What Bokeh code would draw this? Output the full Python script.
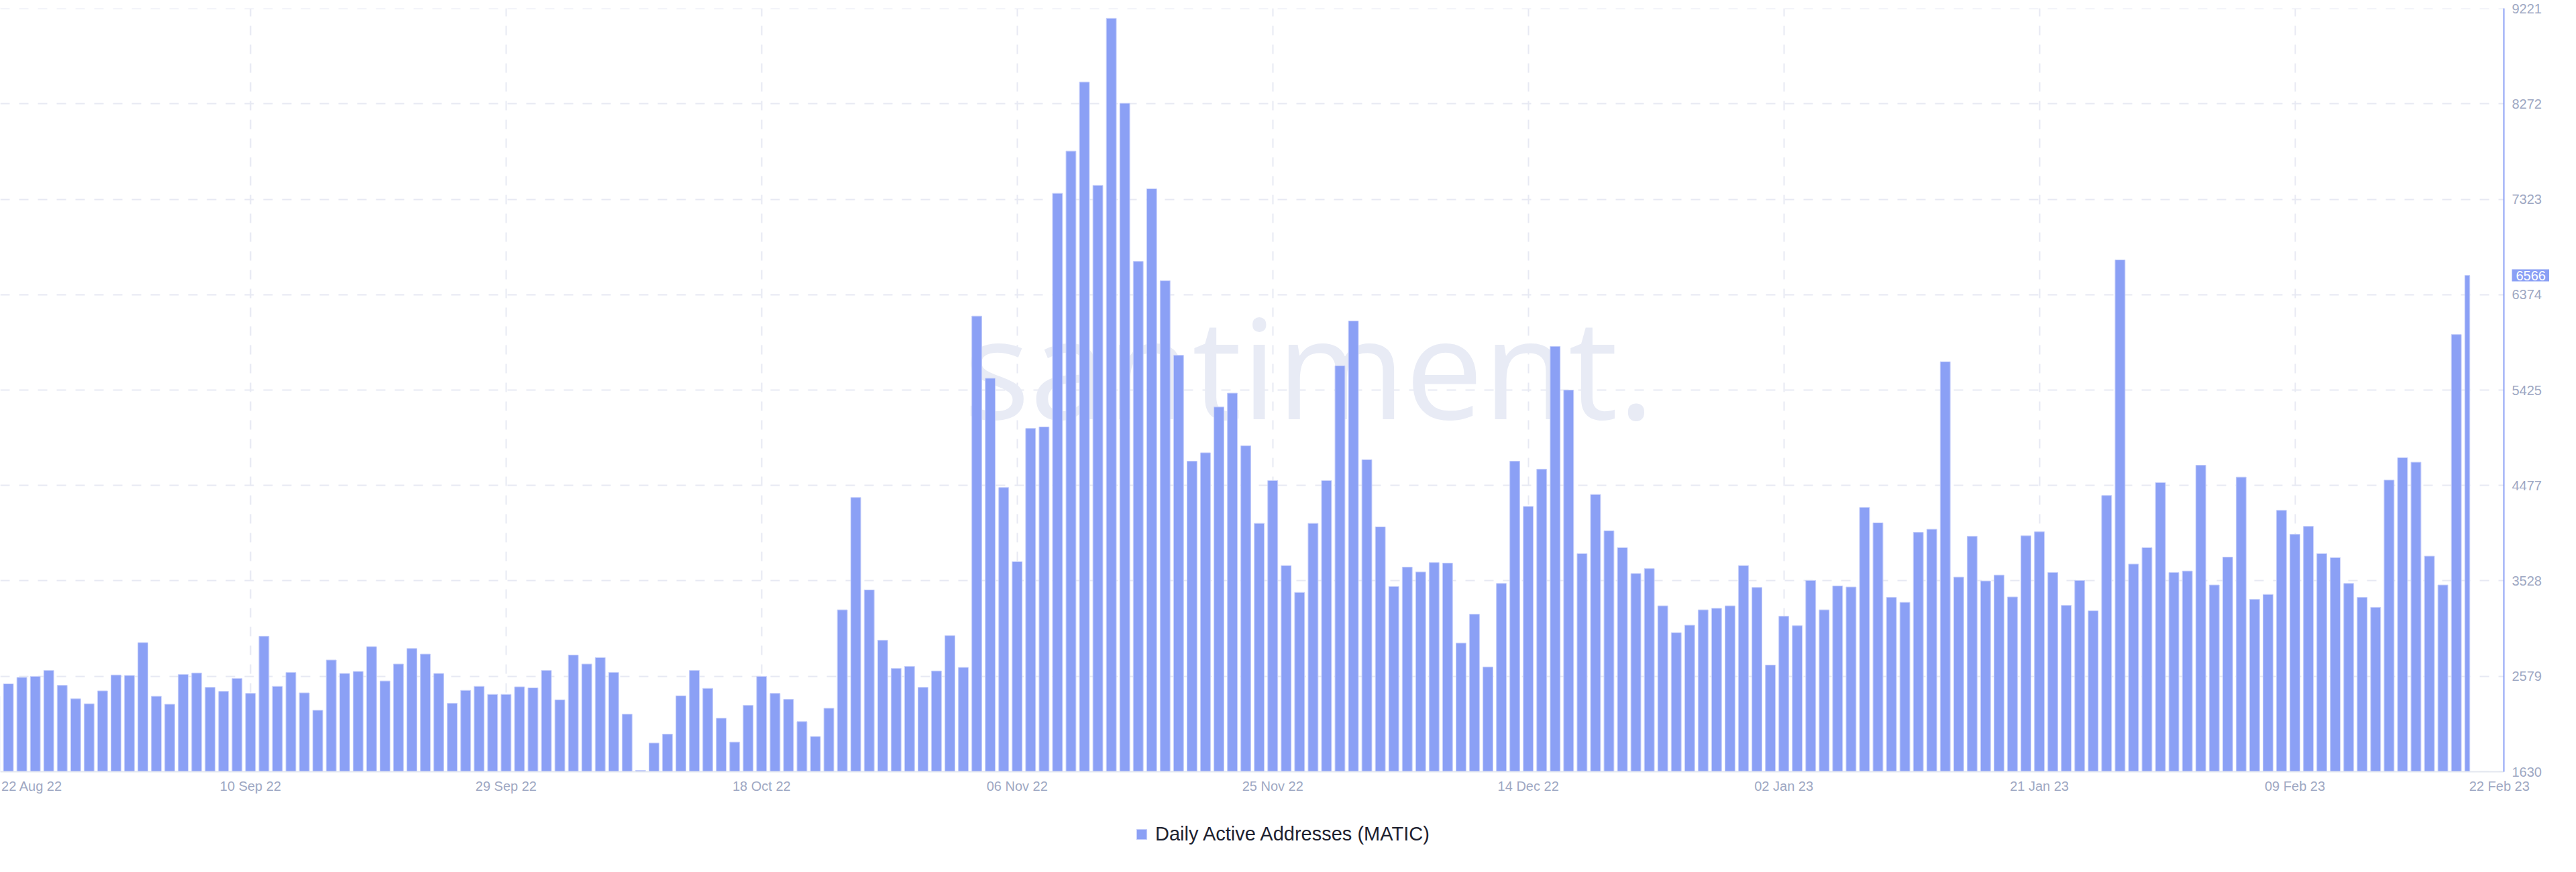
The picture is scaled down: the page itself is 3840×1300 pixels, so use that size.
import pandas as pd
from bokeh.plotting import figure
from bokeh.models import (Range1d, FixedTicker, DatetimeTickFormatter, Legend,
                          LegendItem, Label, ColumnDataSource, BoxAnnotation)
from bokeh.embed import file_html
from bokeh.resources import INLINE

# ---------------- data ----------------
start_date = "2022-08-22"
active_addresses = [
    2380, 2504, 2568, 2578, 2637, 2489, 2355, 2306, 2434, 2592,
    2587, 2914, 2380, 2301, 2597, 2612, 2469, 2429, 2558, 2409,
    2978, 2479, 2617, 2414, 2241, 2741, 2607, 2627, 2874, 2533,
    2701, 2855, 2800, 2607, 2311, 2439, 2479, 2399, 2399, 2474,
    2464, 2637, 2345, 2790, 2701, 2765, 2617, 2202, 1643, 1915,
    2004, 2385, 2637, 2459, 2162, 1925, 2291, 2578, 2409, 2350,
    2128, 1980, 2261, 3240, 4357, 3438, 2938, 2657, 2677, 2469,
    2632, 2983, 2667, 6161, 5543, 4456, 3719, 5044, 5059, 7382,
    7802, 8489, 7461, 9122, 8277, 6705, 7427, 6512, 5771, 4718,
    4802, 5257, 5395, 4871, 4100, 4525, 3680, 3413, 4100, 4525,
    5667, 6112, 4733, 4065, 3472, 3665, 3616, 3710, 3705, 2909,
    3196, 2672, 3502, 4718, 4268, 4639, 5860, 5425, 3799, 4387,
    4026, 3858, 3601, 3650, 3280, 3013, 3087, 3240, 3255, 3280,
    3680, 3462, 2691, 3176, 3082, 3532, 3240, 3477, 3467, 4258,
    4105, 3364, 3314, 4011, 4041, 5707, 3566, 3972, 3527, 3586,
    3368, 3976, 4016, 3611, 3284, 3532, 3230, 4377, 6720, 3695,
    3858, 4505, 3611, 3626, 4678, 3487, 3764, 4560, 3344, 3393,
    4229, 3991, 4070, 3799, 3759, 3502, 3364, 3265, 4530, 4753,
    4708, 3774, 3487, 5978, 6566,
]
dates = pd.date_range(start_date, periods=len(active_addresses), freq="D")
y_ticks = [1630, 2579, 3528, 4477, 5425, 6374, 7323, 8272, 9221]
grid_dates = pd.date_range("2022-09-10", "2023-02-09", freq="19D")
series_name = "Daily Active Addresses (MATIC)"
watermark = "santiment."

# ---------------- style / layout ----------------
BAR = "#8ba0f5"
BAR_EDGE = "#c6cffa"
GRID = "#e7e9f3"
TICK_TXT = "#9ea8c3"
FONT = "Liberation Sans"

W, H = 3824, 1284                    # canvas size
PX_PER_DAY = 20.05
PLOT_TOP, PLOT_BOTTOM = 12, 1150     # canvas y of 9221 and 1630
AXIS_X = 3732                        # canvas x of the value axis


def ms(ts):
    return float(pd.Timestamp(ts).value // 10**6)


half = pd.Timedelta(days=0.37)
last = dates[-1]
src = ColumnDataSource(dict(
    left=[d - half for d in dates],
    right=[min(d + half, last) for d in dates],
    top=active_addresses,
    bottom=[y_ticks[0]] * len(dates),
))

x_start = dates[0] + pd.Timedelta(days=0.4)
x_end = x_start + pd.Timedelta(days=W / PX_PER_DAY)
axis_loc = x_start + pd.Timedelta(days=AXIS_X / PX_PER_DAY)
px_per_unit = (PLOT_BOTTOM - PLOT_TOP) / (y_ticks[-1] - y_ticks[0])
y_start = y_ticks[0] - (H - PLOT_BOTTOM) / px_per_unit
y_end = y_ticks[-1] + PLOT_TOP / px_per_unit

p = figure(width=W, height=H, x_axis_type="datetime",
           x_range=Range1d(x_start, x_end),
           y_range=Range1d(y_start, y_end), y_axis_location="right",
           output_backend="svg", toolbar_location=None,
           min_border_left=0, min_border_right=0, min_border_top=0,
           min_border_bottom=0, outline_line_color=None,
           background_fill_color="white", border_fill_color="white")

# watermark
p.add_layout(Label(x=ms(dates[0] + pd.Timedelta(days=97.7)), y=5670,
                   text=watermark, text_align="center",
                   text_baseline="alphabetic", text_font_size="207px",
                   text_font="Open Sans",
                   text_color="#e8ebf5", level="underlay"))

# grids
p.xgrid.ticker = FixedTicker(ticks=[ms(d) for d in grid_dates])
p.ygrid.ticker = FixedTicker(ticks=y_ticks)
for g in (p.xgrid, p.ygrid):
    g.grid_line_color = GRID
    g.grid_line_width = 2
    g.grid_line_dash = "14 14"

# keep the grid inside the plotting area
for box in (dict(left=ms(axis_loc)), dict(top=y_ticks[0]),
            dict(bottom=y_ticks[-1])):
    p.add_layout(BoxAnnotation(fill_color="white", fill_alpha=1,
                               line_color=None, level="underlay", **box))

bars = p.quad(left="left", right="right", top="top", bottom="bottom",
              source=src, fill_color=BAR, line_color=BAR_EDGE, line_width=1)

# x axis
first_lbl = ms(dates[0] + pd.Timedelta(days=2.75))
last_lbl = ms(last + pd.Timedelta(days=2.2))
xa = p.xaxis[0]
xa.fixed_location = y_ticks[0]
xa.bounds = (ms(x_start), ms(axis_loc))
xa.ticker = FixedTicker(ticks=[first_lbl] + [ms(d) for d in grid_dates] + [last_lbl])
fmt = "%d %b %y"
xa.formatter = DatetimeTickFormatter(days=fmt, months=fmt, years=fmt, hours=fmt,
                                     hourmin=fmt, minutes=fmt, seconds=fmt,
                                     minsec=fmt, milliseconds=fmt,
                                     microseconds=fmt)
xa.major_label_overrides = {first_lbl: dates[0].strftime(fmt),
                            last_lbl: last.strftime(fmt)}
xa.axis_line_color = "#e4e7f0"
xa.axis_line_width = 2
xa.major_tick_line_color = None
xa.minor_tick_line_color = None
xa.major_tick_out = 0
xa.minor_tick_out = 0
xa.major_label_standoff = 10
xa.major_label_text_color = TICK_TXT
xa.major_label_text_font = FONT
xa.major_label_text_font_size = "20px"

# y axis (right)
ya = p.yaxis[0]
ya.fixed_location = ms(axis_loc)
ya.bounds = (y_ticks[0], y_ticks[-1])
ya.ticker = FixedTicker(ticks=y_ticks)
ya.axis_line_color = BAR
ya.axis_line_width = 2
ya.major_tick_line_color = None
ya.minor_tick_line_color = None
ya.major_tick_out = 0
ya.minor_tick_out = 0
ya.major_label_standoff = 12
ya.major_label_text_color = TICK_TXT
ya.major_label_text_font = FONT
ya.major_label_text_font_size = "20px"

# last-value marker on the value axis
p.add_layout(Label(x=AXIS_X + 12, y=active_addresses[-1], x_units="screen",
                   y_units="data", text=str(active_addresses[-1]),
                   text_align="left", text_baseline="middle",
                   text_font=FONT, text_font_size="20px", text_color="white",
                   background_fill_color=BAR,
                   padding=dict(left=6, right=5, top=2, bottom=2)))

# series legend under the axis labels
legend = Legend(items=[LegendItem(label=series_name, renderers=[bars])],
                location=(1692, 24), orientation="horizontal",
                glyph_width=19, glyph_height=19, label_standoff=11,
                label_text_font=FONT, label_text_font_size="29px",
                label_text_color="#1e2230", padding=0, margin=0,
                border_line_color=None, background_fill_alpha=0)
p.add_layout(legend, "center")

open("out.html", "w").write(file_html(p, INLINE))
